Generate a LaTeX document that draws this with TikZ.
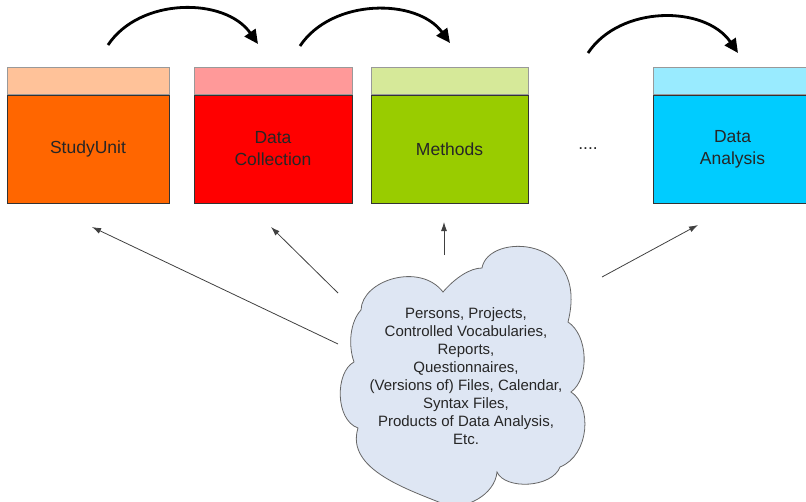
\documentclass[tikz,border=0pt]{standalone}
\usepackage{fontspec}
\setmainfont{Liberation Sans}
\usetikzlibrary{arrows.meta}
\definecolor{suC}{RGB}{255,102,0}
\definecolor{suL}{RGB}{255,194,153}
\definecolor{dcC}{RGB}{255,0,0}
\definecolor{dcL}{RGB}{255,153,153}
\definecolor{meC}{RGB}{153,204,0}
\definecolor{meL}{RGB}{214,233,153}
\definecolor{daC}{RGB}{0,204,255}
\definecolor{daL}{RGB}{153,235,255}
\definecolor{cloudC}{RGB}{222,230,243}
\begin{document}
\begin{tikzpicture}[x=1pt,y=-1pt,
  mainbox/.style={draw=black!80, line width=0.8pt, inner sep=0pt, align=center,
    text=black!85, font=\fontsize{17.5}{22}\selectfont, minimum height=108pt},
  bandbox/.style={draw=black!40, line width=0.6pt, minimum height=27pt, inner sep=0pt, anchor=south},
  flow/.style={line width=2.8pt, -{Triangle[length=14pt,width=13pt]}},
  link/.style={draw=black!75, line width=0.8pt, -{Latex[length=9pt,width=6pt]}},
  cloudline/.style={draw=black!60, line width=0.8pt, fill=cloudC},
  cloudtext/.style={align=center, text=black!85, font=\fontsize{15}{18}\selectfont, inner sep=0pt}]
\useasboundingbox (0,0) rectangle (806,501);

% boxes
\node[mainbox, fill=suC, minimum width=162pt] (su) at (88,149) {StudyUnit};
\node[bandbox, fill=suL, minimum width=162pt] (suband) at (su.north) {};
\node[mainbox, fill=dcC, minimum width=158pt] (dc) at (273,149) {Data\\Collection};
\node[bandbox, fill=dcL, minimum width=158pt] (dcband) at (dc.north) {};
\node[mainbox, fill=meC, minimum width=157pt] (me) at (449.5,149) {Methods};
\node[bandbox, fill=meL, minimum width=157pt] (meband) at (me.north) {};
\node[mainbox, fill=daC, minimum width=159pt] (da) at (732.5,149) {Data\\Analysis};
\node[bandbox, fill=daL, minimum width=159pt] (daband) at (da.north) {};
\node[text=black!85, font=\fontsize{17.5}{22}\selectfont] (dots) at (588,149) {....};

% curved flow arrows
\coordinate (c1s) at (108,45); \coordinate (c1e) at (258,44);
\coordinate (c2s) at (300,46); \coordinate (c2e) at (450,43);
\coordinate (c3s) at (588,53); \coordinate (c3e) at (738,53);
\draw[flow] (c1s) .. controls (140,-3) and (225,-3) .. (c1e);
\draw[flow] (c2s) .. controls (332,-2) and (417,-2) .. (c2e);
\draw[flow] (c3s) .. controls (620,5) and (705,5) .. (c3e);

% cloud
\draw[cloudline] (361,310)
  .. controls (362,280) and (420,262) .. (443,292)
  .. controls (455,278) and (470,268) .. (482,268)
  .. controls (488,232) and (590,235) .. (568,322)
  .. controls (588,335) and (590,378) .. (571,392)
  .. controls (592,405) and (590,455) .. (560,467)
  .. controls (552,488) and (505,490) .. (497,472)
  .. controls (495,495) and (465,510) .. (446,505)
  .. controls (410,490) and (345,470) .. (358,428)
  .. controls (335,420) and (335,372) .. (354,362)
  .. controls (348,345) and (350,322) .. (361,310) -- cycle;
\node[cloudtext] (cloud) at (466,376) {Persons, Projects,\\Controlled Vocabularies,\\Reports,\\Questionnaires,\\(Versions of) Files, Calendar,\\Syntax Files,\\Products of Data Analysis,\\Etc.};

% links from cloud to boxes
\coordinate (t1) at (338,344); \coordinate (h1) at (92,227);
\coordinate (t2) at (338,293); \coordinate (h2) at (271,227);
\coordinate (t3) at (444,255); \coordinate (h3) at (444,222);
\coordinate (t4) at (602,277); \coordinate (h4) at (698,225);
\draw[link] (t1) -- (h1);
\draw[link] (t2) -- (h2);
\draw[link] (t3) -- (h3);
\draw[link] (t4) -- (h4);
\end{tikzpicture}
\end{document}
